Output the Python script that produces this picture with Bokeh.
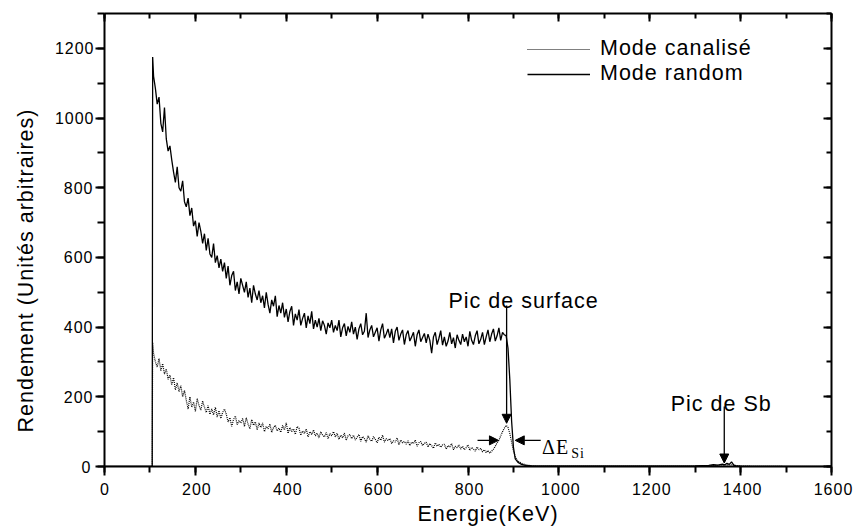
import numpy as np
from bokeh.plotting import figure
from bokeh.models import (Range1d, LinearAxis, SingleIntervalTicker, Label, Arrow, Title,
                          NormalHead, Legend, LegendItem, InlineStyleSheet)
from bokeh.embed import file_html
from bokeh.resources import INLINE

# ---------------- data ----------------
# channel body: energies start at 108 keV, 4 keV per channel
body_start = 108
body_step = 4

random_head_E = [0, 105, 106]
random_head_Y = [0, 0, 1175]
random_body = [
    1120, 1085, 1040, 1060, 985, 960, 1030, 940, 905, 920,
    880, 845, 815, 860, 800, 790, 820, 760, 745, 770,
    720, 742, 690, 705, 660, 700, 675, 640, 668, 620,
    655, 610, 600, 640, 585, 605, 570, 595, 560, 585,
    540, 575, 520, 548, 560, 505, 530, 495, 540, 520,
    500, 530, 485, 512, 470, 520, 495, 478, 505, 470,
    490, 455, 500, 465, 440, 478, 460, 490, 430, 462,
    440, 470, 428, 452, 415, 445, 460, 405, 438, 420,
    450, 405, 425, 440, 398, 432, 410, 445, 395, 420,
    400, 425, 390, 418, 405, 380, 412, 398, 420, 385,
    405, 390, 420, 372, 398, 410, 375, 402, 385, 415,
    380, 400, 365, 395, 410, 378, 388, 440, 370, 392,
    405, 372, 385, 398, 360, 392, 410, 368, 380, 395,
    370, 395, 355, 388, 400, 362, 380, 392, 350, 378,
    390, 360, 372, 385, 345, 378, 392, 358, 370, 382,
    355, 380, 362, 325, 372, 385, 350, 368, 390, 348,
    372, 345, 360, 385, 352, 370, 340, 378, 362, 350,
    380, 358, 372, 345, 388, 362, 350, 375, 390, 352,
    365, 385, 350, 372, 392, 358, 380, 395, 360, 375,
    398, 362, 385, 378,
]
random_tail_E = [884, 888, 892, 896, 900, 904, 910, 918, 926, 940, 960, 1000, 1100,
                 1200, 1300, 1330, 1340, 1350, 1360, 1365, 1370, 1375, 1380, 1385,
                 1390, 1400, 1500, 1600]
random_tail_Y = [375, 340, 250, 130, 55, 22, 12, 6, 3, 2, 1, 1, 1,
                 1, 2, 3, 5, 4, 7, 5, 9, 6, 13, 4,
                 2, 1, 0, 0]

chan_head_E = [0, 105, 106]
chan_head_Y = [0, 0, 356]
chan_body = [
    325, 300, 285, 310, 275, 295, 265, 280, 250, 262,
    235, 255, 220, 240, 215, 232, 200, 218, 190, 165,
    200, 170, 185, 158, 195, 175, 162, 188, 170, 155,
    175, 150, 165, 148, 170, 142, 160, 138, 155, 165,
    150, 128, 140, 115, 135, 145, 120, 132, 125, 138,
    115, 140, 122, 108, 135, 118, 128, 105, 125, 112,
    125, 100, 115, 108, 122, 98, 112, 118, 102, 110,
    98, 118, 105, 125, 95, 112, 100, 108, 92, 115,
    110, 90, 102, 95, 108, 85, 100, 92, 105, 88,
    96, 82, 100, 90, 85, 98, 80, 94, 88, 100,
    85, 95, 78, 90, 82, 96, 75, 88, 92, 80,
    90, 76, 84, 92, 72, 86, 80, 70, 88, 78,
    72, 86, 78, 68, 84, 75, 90, 70, 80, 74,
    80, 66, 74, 70, 82, 62, 76, 68, 72, 64,
    74, 60, 70, 66, 76, 58, 68, 72, 60, 66,
    70, 56, 66, 60, 52, 68, 58, 64, 55, 62,
    64, 50, 60, 56, 66, 48, 58, 54, 62, 50,
    58, 48, 54, 62, 46, 55, 50, 44, 56, 48,
    52, 42, 48, 40, 46, 38, 44, 50, 58,
]
chan_tail_E = [864, 868, 872, 876, 880, 884, 888, 892, 896, 900, 904, 908, 914, 920,
               930, 940, 960, 1000, 1100, 1200, 1300, 1340, 1360, 1380, 1400, 1500, 1600]
chan_tail_Y = [68, 75, 88, 100, 110, 118, 112, 95, 70, 45, 28, 18, 12, 8,
               4, 2, 1, 1, 1, 1, 1, 3, 4, 5, 1, 0, 0]

x_ticks_major = 200
y_ticks_major = 200

# annotation anchors (data units)
surf_label = (757, 475)
surf_arrow = (885, 462, 885, 124)
de_arrow_right = (821, 75, 867, 75)
de_arrow_left = (960, 75, 904, 75)
de_label = (963, 57)
si_label = (1027, 38)
sb_label = (1246, 180)
sb_arrow = (1364, 172, 1364, 10)

# ---------------- build series ----------------
def series(head_E, head_Y, body, tail_E, tail_Y):
    bE = [float(v) for v in body_start + body_step * np.arange(len(body))]
    return head_E + bE + tail_E, head_Y + body + tail_Y

rE, rY = series(random_head_E, random_head_Y, random_body, random_tail_E, random_tail_Y)
cE, cY = series(chan_head_E, chan_head_Y, chan_body, chan_tail_E, chan_tail_Y)

FONT = "Liberation Sans"
BIG = "21.5px"
TICK = "16px"

p = figure(width=855, height=531, output_backend="svg", toolbar_location=None,
           x_range=Range1d(0, 1600), y_range=Range1d(0, 1300),
           min_border_left=104, min_border_right=24, min_border_top=13, min_border_bottom=65)
p.outline_line_color = None
p.xgrid.visible = False
p.ygrid.visible = False
p.background_fill_color = "white"
p.border_fill_color = "white"

# the reference uses widely tracked lettering
p.stylesheets = [InlineStyleSheet(css=":host { letter-spacing: 1px; }")]

xt = SingleIntervalTicker(interval=x_ticks_major, num_minor_ticks=2)
yt = SingleIntervalTicker(interval=y_ticks_major, num_minor_ticks=2)

def style_axis(ax, ticker):
    ax.ticker = ticker
    ax.axis_line_width = 2
    ax.axis_line_color = "black"
    ax.major_tick_line_width = 2
    ax.minor_tick_line_width = 2
    ax.major_tick_line_color = "black"
    ax.minor_tick_line_color = "black"
    ax.major_label_text_font = FONT
    ax.major_label_text_font_size = TICK
    ax.major_label_text_color = "black"

xa = p.xaxis[0]
style_axis(xa, xt)
xa.major_tick_out = 9
xa.major_tick_in = 0
xa.minor_tick_out = 6
xa.minor_tick_in = 0
xa.major_label_standoff = 7

ya = p.yaxis[0]
style_axis(ya, yt)
ya.major_tick_out = 9
ya.major_tick_in = 0
ya.minor_tick_out = 7
ya.minor_tick_in = 0
ya.major_label_standoff = 5

for loc, tk in (("above", xt), ("right", yt)):
    ax = LinearAxis(ticker=tk)
    ax.axis_line_width = 2
    ax.major_tick_line_width = 2
    ax.minor_tick_line_width = 2
    ax.major_tick_in = 8
    ax.major_tick_out = 0
    ax.minor_tick_in = 5
    ax.minor_tick_out = 0
    ax.major_label_text_font_size = "0px"
    ax.major_label_text_color = None
    ax.major_label_standoff = 0
    p.add_layout(ax, loc)

# axis titles as side-panel titles so their start can be placed like the reference
xtitle = Title(text="Energie(KeV)", align="left", offset=313, vertical_align="bottom",
               standoff=5, text_font=FONT, text_font_size=BIG,
               text_font_style="normal", text_color="black")
p.add_layout(xtitle, "below")
ytitle = Title(text="Rendement (Unités arbitraires)", align="left", offset=34,
               vertical_align="top", standoff=24, text_font=FONT, text_font_size=BIG,
               text_font_style="normal", text_color="black")
p.add_layout(ytitle, "left")

r_chan = p.line(cE, cY, line_color="black", line_width=1.2, line_dash="1 1")
r_rand = p.line(rE, rY, line_color="black", line_width=1.3)

legend = Legend(items=[LegendItem(label="Mode canalisé", renderers=[r_chan]),
                       LegendItem(label="Mode random", renderers=[r_rand])],
                location=(423, 380), border_line_color=None, background_fill_alpha=0,
                padding=0, margin=0, spacing=0, glyph_width=63, glyph_height=20,
                label_height=20, label_standoff=10,
                label_text_font=FONT, label_text_font_size=BIG,
                label_text_color="black")
p.add_layout(legend)

def label(x, y, text, size=BIG, font=FONT):
    lb = Label(x=x, y=y, text=text, text_font=font, text_font_size=size,
               text_align="left", text_baseline="alphabetic", text_color="black")
    p.add_layout(lb)

label(surf_label[0], surf_label[1], "Pic de surface")
label(sb_label[0], sb_label[1], "Pic de Sb")
label(de_label[0], de_label[1], "ΔE", size="20px", font="Liberation Serif")
label(si_label[0], si_label[1], "Si", size="14px", font="Liberation Serif")

def arrow(c):
    p.add_layout(Arrow(x_start=c[0], y_start=c[1], x_end=c[2], y_end=c[3],
                       line_color="black", line_width=1.3,
                       end=NormalHead(size=9, fill_color="black", line_color="black")))

for c in (surf_arrow, de_arrow_right, de_arrow_left, sb_arrow):
    arrow(c)

open("out.html", "w").write(file_html(p, INLINE))
